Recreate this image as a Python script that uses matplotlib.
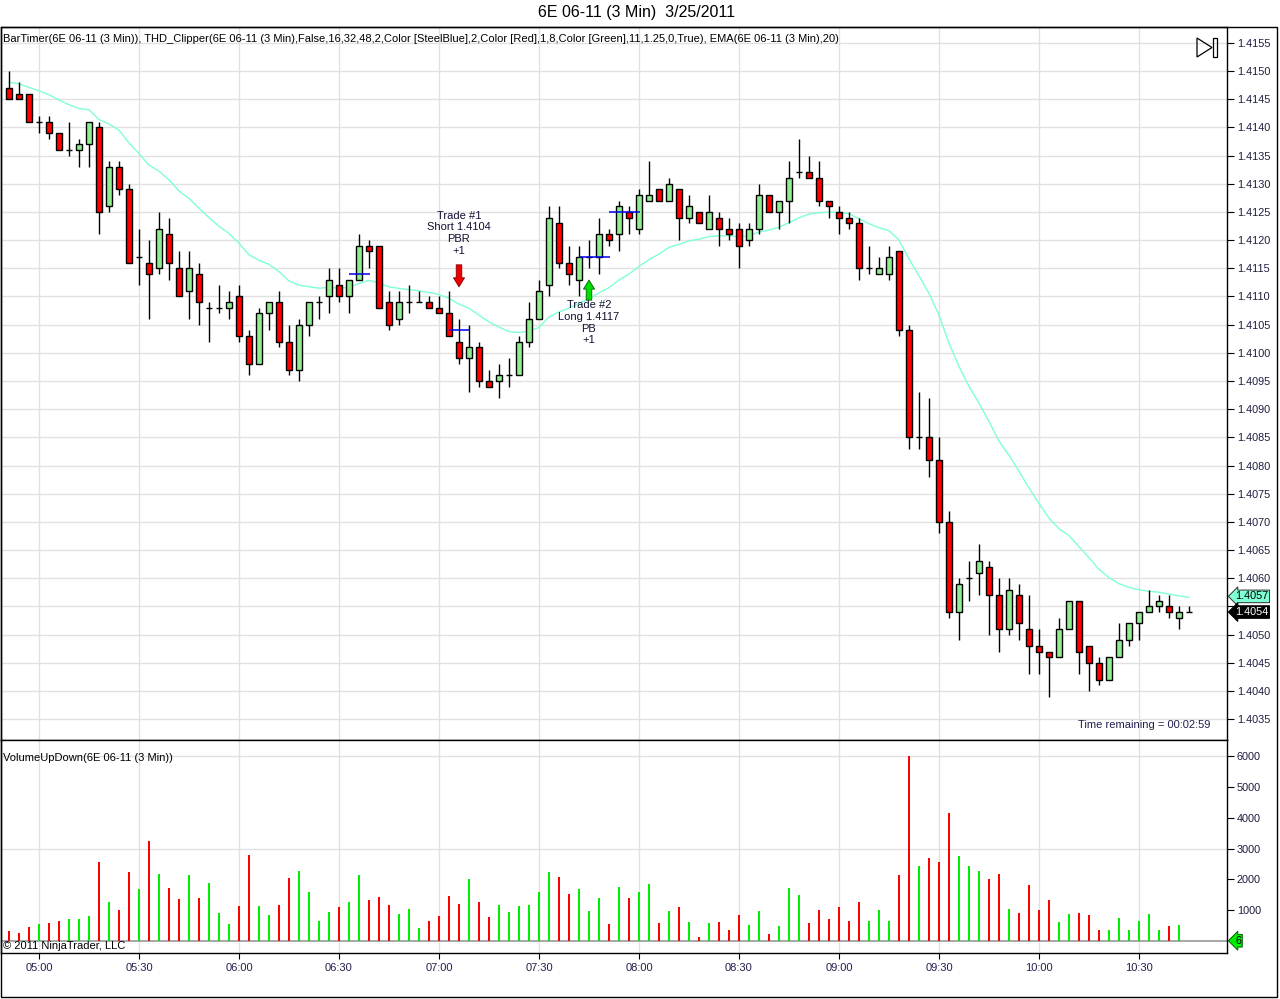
import numpy as np
import matplotlib
matplotlib.use('Agg')
import matplotlib.pyplot as plt
from matplotlib.patches import Polygon, Rectangle

plt.rcParams['font.family'] = ['Liberation Sans', 'DejaVu Sans']

# --- 6E 06-11, 3 minute bars, 3/25/2011 ---
start_minute = 4 * 60 + 51   # first bar 04:51
bar_minutes = 3

opens = [1.4147, 1.4146, 1.4146, 1.4141, 1.4141, 1.4139, 1.4136, 1.4136, 1.4137, 1.4140,
         1.4126, 1.4133, 1.4129, 1.4117, 1.4116, 1.4115, 1.4121, 1.4115, 1.4111, 1.4114,
         1.4108, 1.4108, 1.4108, 1.4110, 1.4103, 1.4098, 1.4107, 1.4109, 1.4102, 1.4097,
         1.4105, 1.4109, 1.4110, 1.4112, 1.4110, 1.4113, 1.4119, 1.4119, 1.4109, 1.4106,
         1.4109, 1.4109, 1.4109, 1.4108, 1.4107, 1.4102, 1.4099, 1.4101, 1.4095, 1.4095,
         1.4096, 1.4096, 1.4102, 1.4106, 1.4112, 1.4123, 1.4116, 1.4113, 1.4117, 1.4117,
         1.4121, 1.4121, 1.4125, 1.4122, 1.4127, 1.4129, 1.4127, 1.4129, 1.4124, 1.4125,
         1.4122, 1.4124, 1.4122, 1.4122, 1.4120, 1.4122, 1.4128, 1.4125, 1.4127, 1.4132,
         1.4132, 1.4131, 1.4127, 1.4125, 1.4124, 1.4123, 1.4115, 1.4114, 1.4114, 1.4118,
         1.4104, 1.4085, 1.4085, 1.4081, 1.4070, 1.4054, 1.4060, 1.4061, 1.4062, 1.4057,
         1.4051, 1.4057, 1.4051, 1.4048, 1.4047, 1.4046, 1.4051, 1.4056, 1.4048, 1.4045,
         1.4042, 1.4046, 1.4049, 1.4052, 1.4054, 1.4055, 1.4055, 1.4053, 1.4054]
highs = [1.4150, 1.4148, 1.4146, 1.4142, 1.4142, 1.4139, 1.4141, 1.4138, 1.4141, 1.4141,
         1.4134, 1.4134, 1.4130, 1.4122, 1.4120, 1.4125, 1.4124, 1.4118, 1.4118, 1.4116,
         1.4109, 1.4112, 1.4111, 1.4112, 1.4104, 1.4108, 1.4109, 1.4111, 1.4105, 1.4106,
         1.4109, 1.4110, 1.4115, 1.4115, 1.4113, 1.4121, 1.4120, 1.4119, 1.4111, 1.4111,
         1.4112, 1.4111, 1.4110, 1.4110, 1.4111, 1.4106, 1.4105, 1.4102, 1.4097, 1.4098,
         1.4099, 1.4103, 1.4109, 1.4113, 1.4126, 1.4126, 1.4119, 1.4119, 1.4120, 1.4124,
         1.4122, 1.4127, 1.4126, 1.4129, 1.4134, 1.4129, 1.4131, 1.4129, 1.4128, 1.4125,
         1.4128, 1.4125, 1.4124, 1.4123, 1.4123, 1.4130, 1.4128, 1.4127, 1.4134, 1.4138,
         1.4135, 1.4134, 1.4127, 1.4126, 1.4125, 1.4124, 1.4119, 1.4117, 1.4119, 1.4118,
         1.4105, 1.4093, 1.4092, 1.4085, 1.4072, 1.4060, 1.4063, 1.4066, 1.4063, 1.4060,
         1.4060, 1.4059, 1.4057, 1.4051, 1.4047, 1.4053, 1.4056, 1.4056, 1.4048, 1.4046,
         1.4046, 1.4052, 1.4052, 1.4054, 1.4058, 1.4057, 1.4057, 1.4055, 1.4055]
lows = [1.4145, 1.4145, 1.4141, 1.4139, 1.4138, 1.4136, 1.4135, 1.4133, 1.4133, 1.4121,
        1.4125, 1.4128, 1.4116, 1.4112, 1.4106, 1.4114, 1.4113, 1.4110, 1.4106, 1.4105,
        1.4102, 1.4107, 1.4106, 1.4102, 1.4096, 1.4098, 1.4104, 1.4101, 1.4096, 1.4095,
        1.4103, 1.4106, 1.4107, 1.4109, 1.4107, 1.4113, 1.4115, 1.4108, 1.4104, 1.4105,
        1.4107, 1.4109, 1.4108, 1.4107, 1.4103, 1.4098, 1.4093, 1.4094, 1.4094, 1.4092,
        1.4094, 1.4096, 1.4101, 1.4106, 1.4110, 1.4115, 1.4112, 1.4110, 1.4115, 1.4114,
        1.4119, 1.4118, 1.4121, 1.4121, 1.4127, 1.4127, 1.4127, 1.4120, 1.4123, 1.4123,
        1.4122, 1.4119, 1.4120, 1.4115, 1.4119, 1.4121, 1.4125, 1.4122, 1.4123, 1.4131,
        1.4131, 1.4126, 1.4124, 1.4121, 1.4122, 1.4113, 1.4114, 1.4114, 1.4113, 1.4103,
        1.4083, 1.4083, 1.4078, 1.4068, 1.4053, 1.4049, 1.4056, 1.4057, 1.4050, 1.4047,
        1.4050, 1.4049, 1.4043, 1.4043, 1.4039, 1.4046, 1.4051, 1.4043, 1.4040, 1.4041,
        1.4042, 1.4046, 1.4048, 1.4049, 1.4054, 1.4054, 1.4053, 1.4051, 1.4054]
closes = [1.4145, 1.4145, 1.4141, 1.4141, 1.4139, 1.4136, 1.4136, 1.4137, 1.4141, 1.4125,
          1.4133, 1.4129, 1.4116, 1.4117, 1.4114, 1.4122, 1.4116, 1.4110, 1.4115, 1.4109,
          1.4108, 1.4108, 1.4109, 1.4103, 1.4098, 1.4107, 1.4109, 1.4102, 1.4097, 1.4105,
          1.4109, 1.4109, 1.4113, 1.4110, 1.4113, 1.4119, 1.4118, 1.4108, 1.4105, 1.4109,
          1.4109, 1.4109, 1.4108, 1.4107, 1.4103, 1.4099, 1.4101, 1.4095, 1.4094, 1.4096,
          1.4096, 1.4102, 1.4106, 1.4111, 1.4124, 1.4116, 1.4114, 1.4117, 1.4117, 1.4121,
          1.4120, 1.4126, 1.4124, 1.4128, 1.4128, 1.4127, 1.4130, 1.4124, 1.4126, 1.4123,
          1.4125, 1.4122, 1.4121, 1.4119, 1.4122, 1.4128, 1.4125, 1.4127, 1.4131, 1.4132,
          1.4131, 1.4127, 1.4126, 1.4124, 1.4123, 1.4115, 1.4115, 1.4115, 1.4117, 1.4104,
          1.4085, 1.4085, 1.4081, 1.4070, 1.4054, 1.4059, 1.4060, 1.4063, 1.4057, 1.4051,
          1.4058, 1.4052, 1.4048, 1.4047, 1.4046, 1.4051, 1.4056, 1.4047, 1.4045, 1.4042,
          1.4046, 1.4049, 1.4052, 1.4054, 1.4055, 1.4056, 1.4054, 1.4054, 1.4054]
volumes = [330, 260, 460, 560, 590, 650, 720, 720, 820, 2550,
           1280, 1010, 2230, 1700, 3240, 2160, 1730, 1370, 2130, 1410,
           1870, 920, 560, 1150, 2780, 1150, 850, 1180, 2030, 2260,
           1600, 650, 950, 1110, 1280, 2130, 1340, 1440, 1180, 880,
           1050, 430, 650, 820, 1470, 1210, 2000, 1280, 790, 1180,
           950, 1150, 1180, 1600, 2230, 2090, 1510, 1670, 980, 1410,
           560, 1740, 1410, 1580, 1840, 570, 960, 1090, 600, 140,
           570, 630, 370, 830, 530, 960, 240, 470, 1710, 1480,
           570, 1020, 700, 1090, 660, 1280, 660, 1020, 660, 2130,
           6010, 2420, 2690, 2550, 4150, 2750, 2420, 2260, 2000, 2160,
           1050, 920, 1800, 990, 1320, 630, 860, 920, 830, 370,
           340, 730, 340, 660, 890, 340, 470, 530, 6]

ema_period = 20
ema_start = 1.4148

# THD_Clipper lines: first bar, last bar, price
thd_from = [34, 44, 57, 60]
thd_to = [36, 46, 60, 63]
thd_price = [1.4114, 1.4104, 1.4117, 1.4125]

trade_bars = [45, 58]
trade_sides = ['short', 'long']
trade_tips = [1.41117, 1.41129]
trade_texts = ['Trade #1\nShort 1.4104\nPBR\n+1', 'Trade #2\nLong 1.4117\nPB\n+1']

W, H = 1280, 999
FS = 7.8


def box(left, top, right, bottom):
    return [left / W, 1 - bottom / H, (right - left) / W, (bottom - top) / H]


def pt(x, y):
    return (x / W, 1 - y / H)


n = len(closes)
xs = np.array([start_minute + bar_minutes * i for i in range(n)], dtype=float)
o = np.array(opens)
h = np.array(highs)
l = np.array(lows)
c = np.array(closes)

alpha = 2.0 / (ema_period + 1)
ema = [ema_start]
for v in closes[1:]:
    ema.append(ema[-1] + alpha * (v - ema[-1]))

fig = plt.figure(figsize=(12.8, 9.99), dpi=100)
fig.patch.set_facecolor('white')

ax = fig.add_axes(box(1, 27, 1227, 740))
axv = fig.add_axes(box(1, 740, 1227, 953), sharex=ax)

grid_col = '#e1e1e1'
lbl_col = '#1c1c3c'

# --- price panel ---
ax.vlines(xs, l, h, color='black', lw=1, zorder=3)
up = c > o
dn = c < o
flat = c == o
ax.bar(xs[up], (c - o)[up], bottom=o[up], width=1.8, color='#90ee90',
       edgecolor='black', linewidth=1, zorder=4)
ax.bar(xs[dn], (o - c)[dn], bottom=c[dn], width=1.8, color='#ff0000',
       edgecolor='black', linewidth=1, zorder=4)
ax.hlines(c[flat], xs[flat] - 1.0, xs[flat] + 1.0, color='black', lw=1, zorder=4)
ax.plot(xs, ema, color='#7fffd4', lw=1, zorder=2)

for a, b, p in zip(thd_from, thd_to, thd_price):
    ax.hlines(p, xs[a], xs[b] + 0.3, color='#0000ee', lw=1.1, zorder=5)

for bi, side, tip, txt in zip(trade_bars, trade_sides, trade_tips, trade_texts):
    if side == 'short':
        fc, ec, dy, tdy, va = '#ee0000', '#800000', 22, 31, 'bottom'
    else:
        fc, ec, dy, tdy, va = '#00dd00', '#006000', -20, -20, 'top'
    ax.annotate('', xy=(xs[bi], tip), xytext=(0, dy), textcoords='offset pixels',
                arrowprops=dict(arrowstyle='simple,head_length=0.65,head_width=0.8,tail_width=0.4',
                                fc=fc, ec=ec, lw=0.6, shrinkA=0, shrinkB=0,
                                mutation_scale=10), zorder=6)
    ax.annotate(txt, xy=(xs[bi], tip), xytext=(0, tdy), textcoords='offset pixels',
                ha='center', va=va, fontsize=8.0, linespacing=1.22, color='#101030',
                zorder=6)

ax.set_xlim(288.6, 656.4)
ax.set_ylim(1.40313, 1.41578)
price_ticks = np.arange(1.4035, 1.41551, 0.0005)
ax.set_yticks(price_ticks)
# labels hidden under the value tags are left empty, as on the platform
tag_values = [ema[-1], closes[-1]]
ax.set_yticklabels(['' if min(abs(p - t) for t in tag_values) < 0.00025 else f'{p:.4f}'
                    for p in price_ticks])
ax.yaxis.tick_right()
ax.tick_params(axis='y', length=5, width=0.8, labelsize=FS, pad=2, labelcolor=lbl_col)
ax.tick_params(axis='x', length=0, labelbottom=False)
ax.grid(True, color=grid_col, lw=1)
ax.set_axisbelow(True)

ax.text(0.9865, 0.021, 'Time remaining = 00:02:59', transform=ax.transAxes,
        ha='right', va='center', fontsize=8.0, color='#202050')

# value tags on the price axis
ax.annotate(f'{ema[-1]:.4f}', xy=(1, ema[-1]), xycoords=('axes fraction', 'data'),
            xytext=(8, 1), textcoords='offset pixels', ha='left', va='center',
            fontsize=FS, color='black', annotation_clip=False, zorder=10,
            bbox=dict(boxstyle='larrow,pad=0.12', fc='#7fffd4', ec='#303030', lw=0.7))
ax.annotate(f'{closes[-1]:.4f}', xy=(1, closes[-1]), xycoords=('axes fraction', 'data'),
            xytext=(8, 0), textcoords='offset pixels', ha='left', va='center',
            fontsize=FS, color='white', annotation_clip=False, zorder=11,
            bbox=dict(boxstyle='larrow,pad=0.12', fc='black', ec='black', lw=0.7))

# --- volume panel ---
vol_col = np.where(c >= o, '#00ee00', '#ff0000')
axv.bar(xs, volumes, width=0.85, color=vol_col, zorder=3)
axv.axhline(0, color='#a0a0a0', lw=1.3, zorder=2)
for g in (3000, 6000):
    axv.axhline(g, color=grid_col, lw=1, zorder=1)
axv.set_ylim(-391, 6521)
vol_ticks = [1000, 2000, 3000, 4000, 5000, 6000]
axv.set_yticks(vol_ticks)
axv.set_yticklabels([str(v) for v in vol_ticks])
axv.yaxis.tick_right()
axv.tick_params(axis='y', length=5, width=0.8, labelsize=FS, pad=2, labelcolor=lbl_col)

time_ticks = list(range(300, 631, 30))
axv.set_xticks(time_ticks)
axv.set_xticklabels([f'{m // 60:02d}:{m % 60:02d}' for m in time_ticks])
axv.tick_params(axis='x', length=4, width=0.8, labelsize=8.0, pad=3, labelcolor='#2b1d4f')
axv.grid(True, axis='x', color=grid_col, lw=1)
axv.set_axisbelow(True)

axv.annotate(str(volumes[-1]), xy=(1, volumes[-1]), xycoords=('axes fraction', 'data'),
             xytext=(8, 0), textcoords='offset pixels', ha='left', va='center',
             fontsize=FS, color='black', annotation_clip=False, zorder=10,
             bbox=dict(boxstyle='larrow,pad=0.12', fc='#00ee00', ec='#006000', lw=0.7))

for a in (ax, axv):
    for s in a.spines.values():
        s.set_color('black')
        s.set_linewidth(1)

# --- texts and frame ---
fig.text(*pt(637, 13), '6E 06-11 (3 Min)  3/25/2011', ha='center', va='center', fontsize=11.5)
fig.text(*pt(3, 39), 'BarTimer(6E 06-11 (3 Min)), THD_Clipper(6E 06-11 (3 Min),False,16,32,48,2,'
         'Color [SteelBlue],2,Color [Red],1,8,Color [Green],11,1.25,0,True), EMA(6E 06-11 (3 Min),20)',
         ha='left', va='center', fontsize=8.0)
fig.text(*pt(3, 758), 'VolumeUpDown(6E 06-11 (3 Min))', ha='left', va='center', fontsize=8.0)
fig.text(*pt(3, 946), '\u00a9 2011 NinjaTrader, LLC', ha='left', va='center', fontsize=8.0)

# play / bar timer icon
fig.add_artist(Polygon([pt(1197, 38), pt(1197, 57), pt(1212, 47.5)], closed=True,
                       fill=False, ec='black', lw=0.9, transform=fig.transFigure))
fig.add_artist(Rectangle(pt(1213, 57), 4 / W, 19 / H, fill=False, ec='black', lw=0.9,
                         transform=fig.transFigure))

# outer window border
fig.add_artist(Rectangle(pt(0.5, 997), 1276.5 / W, 970 / H, fill=False, ec='black', lw=1,
                         transform=fig.transFigure))

fig.savefig('out.png', dpi=100, facecolor='white')
